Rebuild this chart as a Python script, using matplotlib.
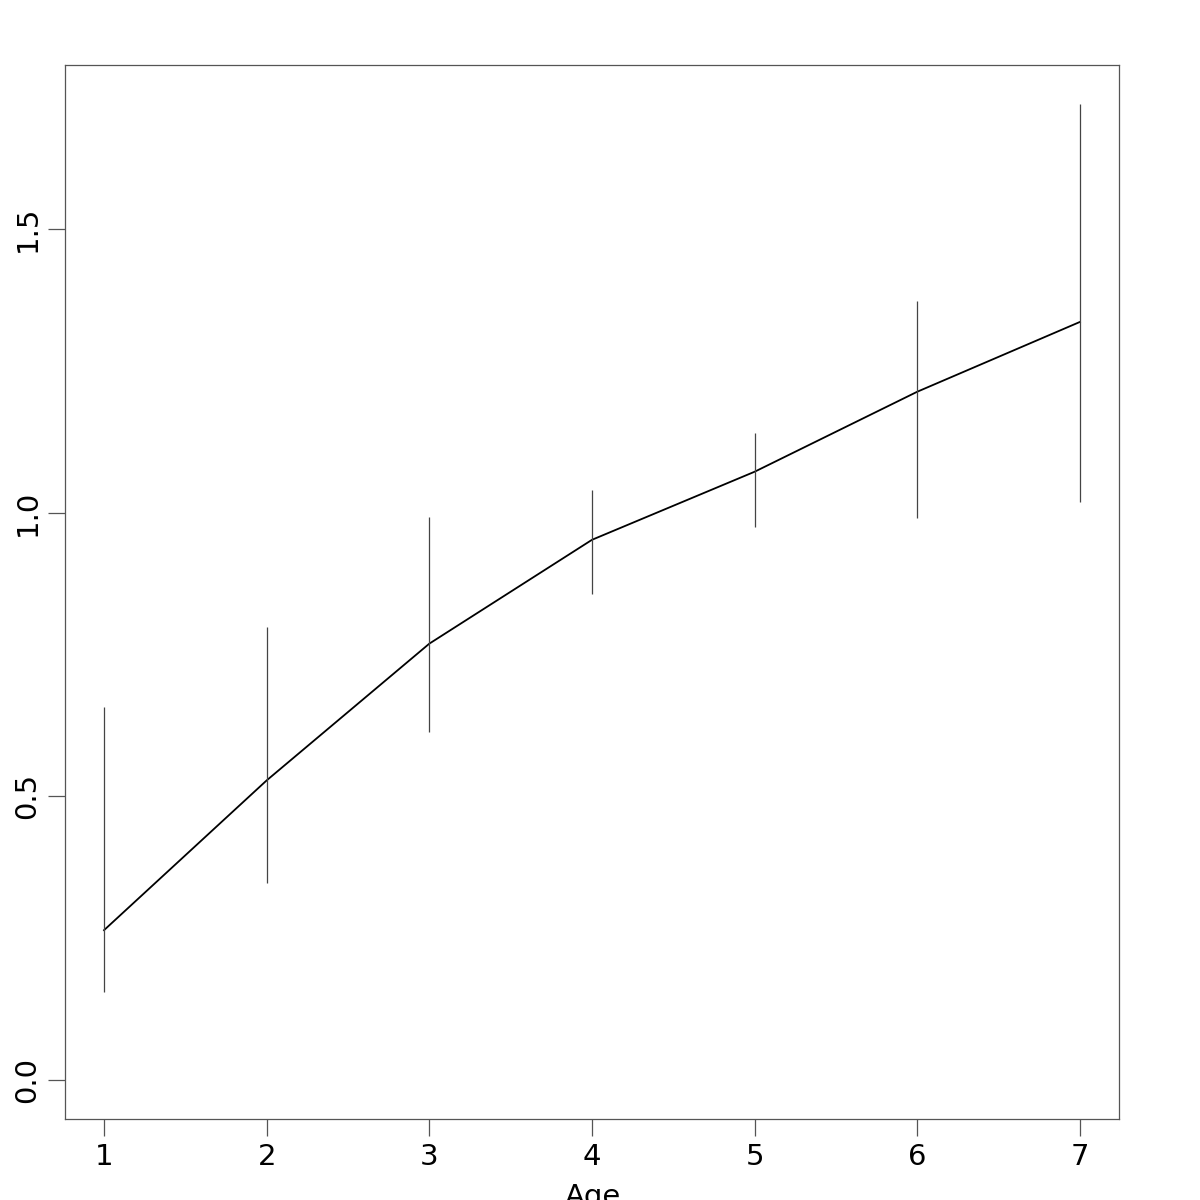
import matplotlib
matplotlib.use("Agg")
import matplotlib.pyplot as plt

ages = [1, 2, 3, 4, 5, 6, 7]
means = [0.264, 0.528, 0.769, 0.952, 1.072, 1.213, 1.336]
lower = [0.155, 0.347, 0.614, 0.857, 0.974, 0.991, 1.019]
upper = [0.657, 0.798, 0.993, 1.039, 1.141, 1.373, 1.720]
y_ticks = [0.0, 0.5, 1.0, 1.5]


def main():
    fig = plt.figure(figsize=(12, 12), dpi=100)
    ax = fig.add_axes([65 / 1200, 81 / 1200, 1054 / 1200, 1054 / 1200])

    ax.plot(ages, means, color="black", linewidth=1.3)
    ax.vlines(ages, lower, upper, color="#444444", linewidth=0.9)

    ax.set_xlim(1 - 0.24, 7 + 0.24)
    ax.set_ylim(0 - 0.0688, 1.72 + 0.0688)
    ax.set_xticks(ages)
    ax.set_yticks(y_ticks)
    ax.set_yticklabels(["0.0", "0.5", "1.0", "1.5"], rotation=90, va="center")
    ax.tick_params(axis="both", direction="out", length=12, width=0.9,
                   color="#555555", labelsize=21, pad=5)
    for s in ax.spines.values():
        s.set_color("#555555")
        s.set_linewidth(0.9)

    fig.text(593 / 1200, 1 - 1197 / 1200, "Age", ha="center", va="center",
             fontsize=21)

    fig.savefig("out.png", dpi=100)


if __name__ == "__main__":
    main()
